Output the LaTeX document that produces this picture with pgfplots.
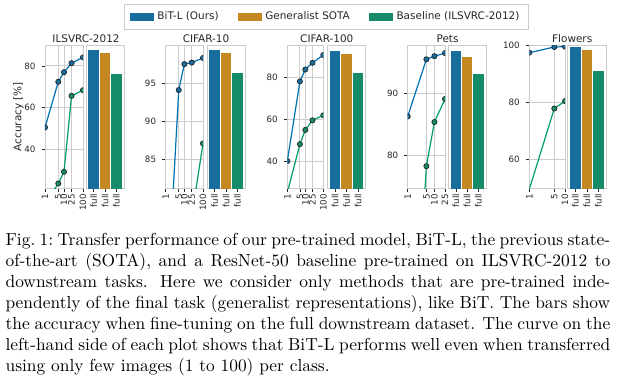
\documentclass[border=0pt]{standalone}
\usepackage{fontspec}
\usepackage{pgfplots}
\pgfplotsset{compat=1.18}
\newfontfamily\dejavu{DejaVu Sans}
\definecolor{lblue}{HTML}{0173B2}
\definecolor{lgreen}{HTML}{029E73}
\definecolor{bblue}{HTML}{176D9C}
\definecolor{borange}{HTML}{C38820}
\definecolor{bgreen}{HTML}{168B6A}
\definecolor{spine}{HTML}{CCCCCC}
\definecolor{txt}{HTML}{262626}
\pgfplotsset{
  mybase/.style={
    scale only axis, anchor=north west, height=82.38pt,
    axis line style={spine, line width=0.5pt},
    tick style={txt, line width=0.45pt},
    tick align=outside, major tick length=2pt,
    xtick pos=bottom, ytick pos=left,
    /pgf/number format/assume math mode=true,
    tick label style={font=\dejavu\fontsize{5}{6}\selectfont, text=txt},
    xticklabel style={rotate=90, anchor=east, inner sep=1pt},
    clip mode=individual, clip marker paths=true,
  },
  mylineax/.style={mybase, xmin=1,
    xmajorgrids, ymajorgrids, grid style={spine, line width=0.5pt}},
  mybarax/.style={mybase, xmin=-0.67, xmax=2.67, xtick={0,1,2},
    xticklabels={full,full,full}, ytick=\empty},
  bitl/.style={lblue, line width=0.7pt, mark=*, mark size=1.5pt,
    mark options={fill=bblue, draw=black!85, line width=0.4pt}},
  basl/.style={lgreen, line width=0.7pt, mark=*, mark size=1.5pt,
    mark options={fill=bgreen, draw=black!85, line width=0.4pt}},
  bb/.style={ybar, /pgf/bar shift=0pt, bar width=0.93, draw=none, fill=bblue},
  bo/.style={ybar, /pgf/bar shift=0pt, bar width=0.93, draw=none, fill=borange},
  bg/.style={ybar, /pgf/bar shift=0pt, bar width=0.93, draw=none, fill=bgreen},
}
\tikzset{ptitle/.style={font=\dejavu\fontsize{6}{7}\selectfont, text=txt, anchor=base, yshift=1.6pt, inner sep=0pt}}
\begin{document}
\begin{tikzpicture}
\useasboundingbox (0,0) rectangle (358.78pt,-215.27pt);
% ---------- ILSVRC-2012
\begin{semilogxaxis}[mylineax, at={(25.83pt,-25.83pt)}, width=21.82pt, xmax=100,
  ymin=21.4, ymax=90, ytick={40,60,80},
  xtick={1,5,10,25,100}, xticklabels={1,5,10,25,100},
  ylabel={Accuracy [\%]},
  ylabel style={font=\dejavu\fontsize{6}{7}\selectfont, text=txt,
    at={(axis description cs:-0.40,0.5)}, anchor=south}]
\addplot[bitl] coordinates {(1,50.6) (5,72.4) (10,77.0) (25,81.3) (100,84.1)};
\addplot[basl] coordinates {(1,14) (5,23.8) (10,29.4) (25,65.7) (100,68.4)};
\node[ptitle] at (rel axis cs:1.079,1) {ILSVRC-2012};
\end{semilogxaxis}
\begin{axis}[mybarax, at={(49.37pt,-25.83pt)}, width=21.82pt, ymin=21.4, ymax=90,
  legend columns=3,
  legend image code/.code={\fill[#1] (0pt,-2.1pt) rectangle (13.8pt,2.1pt);},
  legend style={at={(6.326,1.195)}, anchor=center, draw=spine, line width=0.5pt,
    font=\dejavu\fontsize{6}{7}\selectfont, text=txt,
    /tikz/every even column/.append style={column sep=9pt}}]
\addplot[bb] coordinates {(0,87.6)};
\addplot[bo] coordinates {(1,86.0)};
\addplot[bg] coordinates {(2,76.3)};
\legend{BiT-L (Ours),Generalist SOTA,Baseline (ILSVRC-2012)}
\end{axis}
% ---------- CIFAR-10
\begin{semilogxaxis}[mylineax, at={(95.13pt,-25.83pt)}, width=21.41pt, xmax=100,
  ymin=81.2, ymax=100, ytick={85,90,95},
  xtick={1,5,10,25,100}, xticklabels={1,5,10,25,100}]
\addplot[bitl] coordinates {(1,63) (5,94.1) (10,97.5) (25,97.7) (100,98.3)};
\addplot[basl] coordinates {(1,30) (5,50) (10,66) (25,77.6) (100,87.1)};
\node[ptitle] at (rel axis cs:1.080,1) {CIFAR-10};
\end{semilogxaxis}
\begin{axis}[mybarax, at={(118.84pt,-25.83pt)}, width=21.82pt, ymin=81.2, ymax=100]
\addplot[bb] coordinates {(0,99.4)};
\addplot[bo] coordinates {(1,99.0)};
\addplot[bg] coordinates {(2,96.3)};
\end{axis}
% ---------- CIFAR-100
\begin{semilogxaxis}[mylineax, at={(164.94pt,-25.83pt)}, width=20.67pt, xmax=100,
  ymin=26.9, ymax=95.5, ytick={40,60,80},
  xtick={1,5,10,25,100}, xticklabels={1,5,10,25,100}]
\addplot[bitl] coordinates {(1,40.0) (5,78.1) (10,83.8) (25,87.0) (100,90.7)};
\addplot[basl] coordinates {(1,25) (5,48.1) (10,54.9) (25,59.5) (100,61.9)};
\node[ptitle] at (rel axis cs:1.096,1) {CIFAR-100};
\end{semilogxaxis}
\begin{axis}[mybarax, at={(187.90pt,-25.83pt)}, width=22.05pt, ymin=26.9, ymax=95.5]
\addplot[bb] coordinates {(0,92.7)};
\addplot[bo] coordinates {(1,91.1)};
\addplot[bg] coordinates {(2,81.9)};
\end{axis}
% ---------- Pets
\begin{semilogxaxis}[mylineax, at={(234.06pt,-25.83pt)}, width=21.41pt, xmax=25,
  ymin=74.7, ymax=97.8, ytick={80,90},
  xtick={1,5,10,25}, xticklabels={1,5,10,25}]
\addplot[bitl] coordinates {(1,86.3) (5,95.5) (10,96.0) (25,96.5)};
\addplot[basl] coordinates {(1,29) (5,78.3) (10,85.4) (25,89.1)};
\node[ptitle] at (rel axis cs:1.067,1) {Pets};
\end{semilogxaxis}
\begin{axis}[mybarax, at={(257.37pt,-25.83pt)}, width=21.64pt, ymin=74.7, ymax=97.8]
\addplot[bb] coordinates {(0,96.9)};
\addplot[bo] coordinates {(1,95.8)};
\addplot[bg] coordinates {(2,93.2)};
\end{axis}
% ---------- Flowers
\begin{semilogxaxis}[mylineax, at={(303.87pt,-25.83pt)}, width=20.50pt, xmax=10,
  ymin=49.7, ymax=100.1, ytick={60,80,100},
  xtick={1,5,10}, xticklabels={1,5,10}]
\addplot[bitl] coordinates {(1,97.4) (5,99.4) (10,99.5)};
\addplot[basl] coordinates {(1,49.5) (5,77.8) (10,80.4)};
\node[ptitle] at (rel axis cs:1.20,1) {Flowers};
\end{semilogxaxis}
\begin{axis}[mybarax, at={(325.92pt,-25.83pt)}, width=21.99pt, ymin=49.7, ymax=100.1]
\addplot[bb] coordinates {(0,99.4)};
\addplot[bo] coordinates {(1,98.5)};
\addplot[bg] coordinates {(2,91.0)};
\end{axis}
% ---------- caption
\node[anchor=base west, text width=347.12pt, align=justify, inner sep=0pt,
  font=\fontsize{10}{12}\selectfont] at (3.0pt,-141.1pt)
{Fig.~1:\ Transfer performance of our pre-trained model, BiT-L, the previous state-of-the-art (SOTA), and a ResNet-50 baseline pre-trained on ILSVRC-2012 to downstream tasks. Here we consider only methods that are pre-trained independently of the final task (generalist representations), like BiT. The bars show the accuracy when fine-tuning on the full downstream dataset. The curve on the left-hand side of each plot shows that BiT-L performs well even when transferred using only few images (1~to~100) per class.};
\end{tikzpicture}
\end{document}
